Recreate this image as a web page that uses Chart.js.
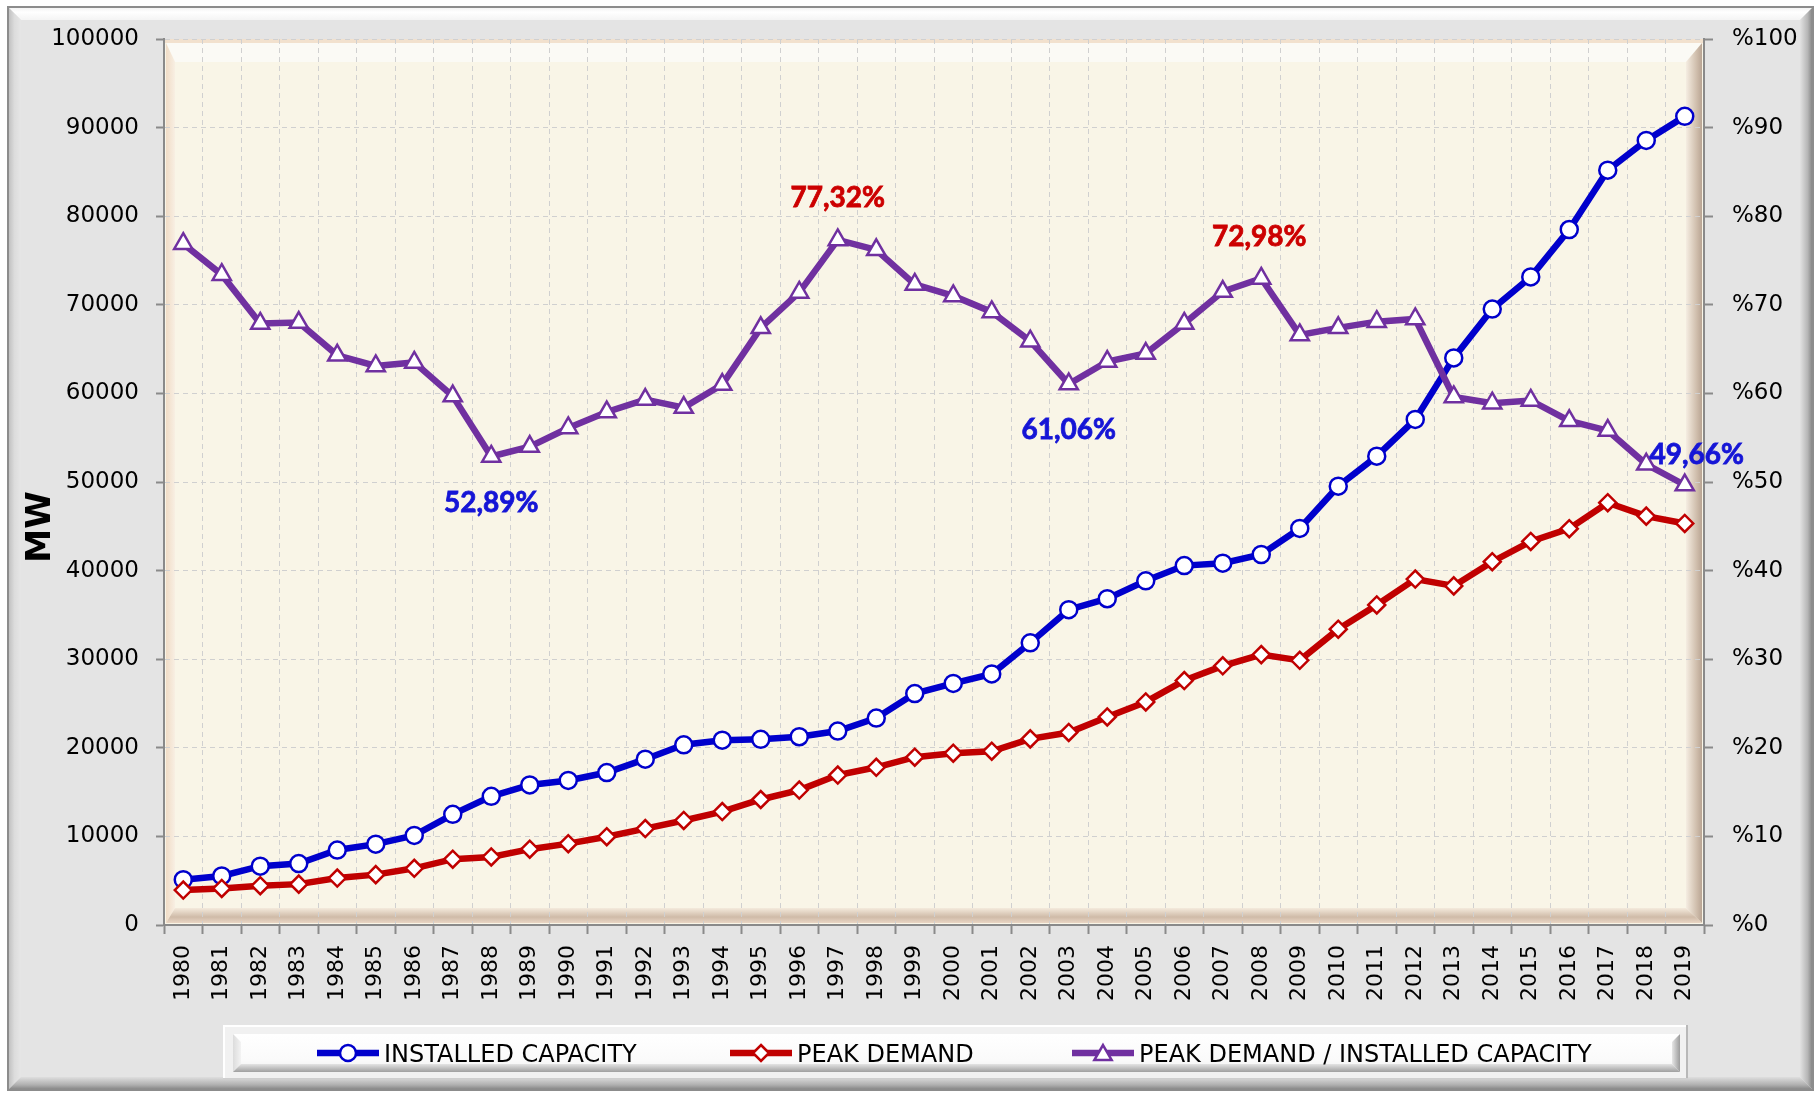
<!DOCTYPE html>
<html>
<head>
<meta charset="utf-8">
<style>
html,body{margin:0;padding:0;background:#ffffff;overflow:hidden}
canvas{display:block}
</style>
<script src="https://cdn.jsdelivr.net/npm/chart.js@4.4.1/dist/chart.umd.min.js"></script>
</head>
<body>
<canvas id="c" width="1819" height="1095"></canvas>
<script>
// ---------------- DATA ----------------
const years = ['1980','1981','1982','1983','1984','1985','1986','1987','1988','1989',
               '1990','1991','1992','1993','1994','1995','1996','1997','1998','1999',
               '2000','2001','2002','2003','2004','2005','2006','2007','2008','2009',
               '2010','2011','2012','2013','2014','2015','2016','2017','2018','2019'];

const installedCapacity = [5119, 5538, 6639, 6935, 8462, 9122, 10115, 12495, 14521, 15808,
                           16318, 17209, 18716, 20338, 20860, 20954, 21249, 21892, 23354, 26119,
                           27264, 28332, 31846, 35587, 36824, 38844, 40565, 40836, 41817, 44761,
                           49524, 52911, 57059, 64008, 69520, 73147, 78497, 85200, 88551, 91267];

const peakDemand = [3946, 4122, 4440, 4613, 5300, 5685, 6400, 7426, 7680, 8557,
                    9180, 9965, 10882, 11799, 12800, 14165, 15231, 16926, 17799, 18938,
                    19390, 19612, 21006, 21729, 23485, 25174, 27594, 29249, 30517, 29870,
                    33392, 36122, 39045, 38274, 41003, 43289, 44734, 47660, 46148, 45323];

const demandRatio = [76.9, 73.4, 67.9, 68.0, 64.3, 63.1, 63.5, 59.7, 52.89, 54.0,
                     56.1, 57.9, 59.3, 58.4, 61.0, 67.4, 71.4, 77.32, 76.2, 72.3,
                     71.0, 69.2, 65.9, 61.06, 63.6, 64.5, 67.9, 71.5, 72.98, 66.6,
                     67.4, 68.1, 68.4, 59.6, 58.9, 59.2, 56.9, 55.8, 52.0, 49.66];

const seriesNames = ['INSTALLED CAPACITY', 'PEAK DEMAND', 'PEAK DEMAND / INSTALLED CAPACITY'];
const leftAxisTitle = 'MW';
const annotatedYears = ['1988', '1997', '2003', '2008', '2019'];

// ---------------- STYLES ----------------
const BLUE = '#0000cc', RED = '#c00000', PURPLE = '#7030a0';
const seriesColors = [BLUE, RED, PURPLE];
const seriesMarkers = ['circle', 'rectRot', 'triangle'];
const annotationColors = ['#1515d6', '#cc0000', '#1515d6', '#cc0000', '#1515d6'];
const annotationOffsets = [[0, 47], [0, -42], [0, 46], [-2, -41], [12, -30]];
const legendItemX = [317, 730, 1072];
const FONT = "'DejaVu Sans', Verdana, sans-serif";

function poly(ctx, pts, fill) {
  ctx.beginPath();
  ctx.moveTo(pts[0][0], pts[0][1]);
  for (let i = 1; i < pts.length; i++) ctx.lineTo(pts[i][0], pts[i][1]);
  ctx.closePath();
  ctx.fillStyle = fill;
  ctx.fill();
}
function lgrad(ctx, x0, y0, x1, y1, stops) {
  const g = ctx.createLinearGradient(x0, y0, x1, y1);
  stops.forEach(s => g.addColorStop(s[0], s[1]));
  return g;
}
function drawMarker(ctx, style, x, y, r, color) {
  ctx.beginPath();
  if (style === 'circle') {
    ctx.arc(x, y, r, 0, Math.PI * 2);
  } else if (style === 'rectRot') {
    ctx.moveTo(x, y - r); ctx.lineTo(x + r, y); ctx.lineTo(x, y + r); ctx.lineTo(x - r, y);
    ctx.closePath();
  } else {
    let a = 0;
    for (let k = 0; k < 3; k++) {
      const px = x + Math.sin(a) * r, py = y - Math.cos(a) * r;
      if (k === 0) ctx.moveTo(px, py); else ctx.lineTo(px, py);
      a += Math.PI * 2 / 3;
    }
    ctx.closePath();
  }
  ctx.fillStyle = '#ffffff';
  ctx.fill();
  ctx.lineWidth = 2.5;
  ctx.strokeStyle = color;
  ctx.stroke();
}

// Background frame + plot-area bevel
const framePlugin = {
  id: 'frame',
  beforeDraw(chart) {
    const ctx = chart.ctx, W = chart.width, H = chart.height;
    ctx.save();
    ctx.fillStyle = '#ffffff';
    ctx.fillRect(0, 0, W, H);
    const L = 8, T = 7, R = W - 6, B = H - 5, bw = 13;
    ctx.fillStyle = '#e4e4e4';
    ctx.fillRect(L, T, R - L, B - T);
    poly(ctx, [[L, T], [R, T], [R - bw, T + bw], [L + bw, T + bw]],
         lgrad(ctx, 0, T, 0, T + bw, [[0, '#f2f2f2'], [0.4, '#ffffff'], [1, '#f4f4f4']]));
    poly(ctx, [[L, T], [L + bw, T + bw], [L + bw, B - bw], [L, B]],
         lgrad(ctx, L, 0, L + bw, 0, [[0, '#bdbdbd'], [0.5, '#dcdcdc'], [1, '#e6e6e6']]));
    poly(ctx, [[R, T], [R, B], [R - bw, B - bw], [R - bw, T + bw]],
         lgrad(ctx, R - bw, 0, R, 0, [[0, '#e2e2e2'], [0.6, '#b5b5b5'], [1, '#7c7c7c']]));
    poly(ctx, [[L, B], [R, B], [R - bw, B - bw], [L + bw, B - bw]],
         lgrad(ctx, 0, B - bw, 0, B, [[0, '#dedede'], [0.6, '#b0b0b0'], [1, '#808080']]));
    ctx.strokeStyle = '#8c8c8c';
    ctx.lineWidth = 2;
    ctx.strokeRect(L, T, R - L, B - T);

    // plot area
    const a = chart.chartArea;
    const l = a.left, t = a.top, r = a.right, b = a.bottom;
    ctx.fillStyle = '#f9f5e7';
    ctx.fillRect(l, t, r - l, b - t);
    ctx.fillStyle = '#f2e1ce';
    ctx.fillRect(l, t, r - l, 4);
    poly(ctx, [[l + 2, t + 4], [r - 2, t + 4], [r - 18, t + 23], [l + 11, t + 23]], '#fbfaf5');
    poly(ctx, [[l + 2, t + 4], [l + 11, t + 23], [l + 11, b - 17], [l + 2, b - 2]],
         lgrad(ctx, l + 2, 0, l + 11, 0, [[0, '#f0dcc6'], [1, '#f8efe3']]));
    poly(ctx, [[r - 2, t + 4], [r - 2, b - 2], [r - 18, b - 17], [r - 18, t + 23]],
         lgrad(ctx, r - 18, 0, r - 2, 0, [[0, '#f5ede2'], [0.7, '#cdbba9'], [1, '#b8a493']]));
    poly(ctx, [[l + 2, b - 2], [r - 2, b - 2], [r - 18, b - 17], [l + 11, b - 17]],
         lgrad(ctx, 0, b - 17, 0, b - 2, [[0, '#f4eadc'], [0.6, '#cfbba8'], [1, '#ead6c4']]));
    ctx.restore();
  }
};

// Annotations, axis title and legend
const overlayPlugin = {
  id: 'overlay',
  afterDatasetsDraw(chart) {
    const ctx = chart.ctx;
    const meta = chart.getDatasetMeta(2);
    ctx.save();
    ctx.font = "bold 28px Lato, 'Liberation Sans', sans-serif";
    ctx.textAlign = 'center';
    ctx.textBaseline = 'middle';
    annotatedYears.forEach((yr, k) => {
      const i = years.indexOf(yr);
      const p = meta.data[i];
      const txt = demandRatio[i].toFixed(2).replace('.', ',') + '%';
      const x = p.x + annotationOffsets[k][0], y = p.y + annotationOffsets[k][1];
      ctx.lineWidth = 0.8;
      ctx.strokeStyle = annotationColors[k];
      ctx.fillStyle = annotationColors[k];
      ctx.fillText(txt, x, y);
      ctx.strokeText(txt, x, y);
    });
    ctx.restore();
  },
  afterDraw(chart) {
    const ctx = chart.ctx;
    ctx.save();
    // axis title
    ctx.translate(40, 527);
    ctx.rotate(-Math.PI / 2);
    ctx.font = "bold 34px " + FONT;
    ctx.fillStyle = '#000000';
    ctx.textAlign = 'center';
    ctx.textBaseline = 'middle';
    ctx.fillText(leftAxisTitle, 0, 1);
    ctx.restore();

    // legend box
    ctx.save();
    const ox = 223, oy = 1025, ox2 = 1688, oy2 = 1080;
    ctx.fillStyle = '#f1f1f1';
    ctx.fillRect(ox, oy, ox2 - ox, oy2 - oy);
    ctx.fillStyle = '#ffffff';
    ctx.fillRect(ox, oy, ox2 - ox, 2);
    ctx.fillRect(ox, oy, 2, oy2 - oy);
    ctx.fillStyle = '#b8b8b8';
    ctx.fillRect(ox2 - 2, oy, 2, oy2 - oy);
    ctx.fillStyle = '#cfcfcf';
    ctx.fillRect(ox, oy2 - 2, ox2 - ox, 2);
    const bx = 233, by = 1034, bx2 = 1680, by2 = 1072, bv = 8;
    ctx.fillStyle = lgrad(ctx, 0, by, 0, by2, [[0, '#ffffff'], [0.7, '#fafafa'], [1, '#eeeeee']]);
    ctx.fillRect(bx, by, bx2 - bx, by2 - by);
    poly(ctx, [[bx, by], [bx + bv, by + bv], [bx + bv, by2 - bv], [bx, by2]],
         lgrad(ctx, bx, 0, bx + bv, 0, [[0, '#dcdcdc'], [1, '#f3f3f3']]));
    poly(ctx, [[bx2, by], [bx2, by2], [bx2 - bv, by2 - bv], [bx2 - bv, by + bv]],
         lgrad(ctx, bx2 - bv, 0, bx2, 0, [[0, '#e6e6e6'], [1, '#9c9c9c']]));
    poly(ctx, [[bx, by2], [bx2, by2], [bx2 - bv, by2 - bv], [bx + bv, by2 - bv]],
         lgrad(ctx, 0, by2 - bv, 0, by2, [[0, '#e4e4e4'], [1, '#a0a0a0']]));

    const ly = 1053;
    ctx.font = "24px " + FONT;
    ctx.textAlign = 'left';
    ctx.textBaseline = 'alphabetic';
    seriesNames.forEach((name, k) => {
      const x0 = legendItemX[k];
      ctx.strokeStyle = seriesColors[k];
      ctx.lineWidth = 6.5;
      ctx.lineCap = 'butt';
      ctx.beginPath();
      ctx.moveTo(x0, ly);
      ctx.lineTo(x0 + 62, ly);
      ctx.stroke();
      drawMarker(ctx, seriesMarkers[k], x0 + 31, ly + (k === 2 ? 2 : 0), k === 2 ? 10 : 8, seriesColors[k]);
      ctx.fillStyle = '#000000';
      ctx.fillText(name, x0 + 67, ly + 9);
    });
    ctx.restore();
  }
};

const gridColor = '#d0d0d0';
const axisColor = '#8a8a8a';

new Chart(document.getElementById('c'), {
  type: 'line',
  data: {
    labels: years,
    datasets: [
      {
        label: seriesNames[0], data: installedCapacity, yAxisID: 'y',
        borderColor: BLUE, backgroundColor: '#ffffff', borderWidth: 6.5,
        pointStyle: 'circle', pointRadius: 8.5, pointBorderWidth: 2.5,
        pointBackgroundColor: '#ffffff', pointBorderColor: BLUE, tension: 0, order: 3
      },
      {
        label: seriesNames[1], data: peakDemand, yAxisID: 'y',
        borderColor: RED, backgroundColor: '#ffffff', borderWidth: 6.5,
        pointStyle: 'rectRot', pointRadius: 8.5, pointBorderWidth: 2.5,
        pointBackgroundColor: '#ffffff', pointBorderColor: RED, tension: 0, order: 2
      },
      {
        label: seriesNames[2], data: demandRatio, yAxisID: 'y1',
        borderColor: PURPLE, backgroundColor: '#ffffff', borderWidth: 6.5,
        pointStyle: 'triangle', pointRadius: 10.5, pointBorderWidth: 2.5,
        pointBackgroundColor: '#ffffff', pointBorderColor: PURPLE, tension: 0, order: 1
      }
    ]
  },
  options: {
    responsive: false,
    animation: false,
    devicePixelRatio: 1,
    events: [],
    font: { family: FONT },
    layout: { padding: { top: 39, left: 0, right: 0, bottom: 0 } },
    plugins: { legend: { display: false }, tooltip: { enabled: false } },
    scales: {
      x: {
        offset: true,
        grid: { offset: true, color: gridColor, lineWidth: 1, tickLength: 9, tickColor: axisColor, tickWidth: 2 },
        border: { color: axisColor, width: 2, dash: [5, 4] },
        ticks: { minRotation: 90, maxRotation: 90, autoSkip: false, padding: 11, color: '#000000',
                 font: { family: FONT, size: 22 } },
        afterFit(s) { s.height = 170; }
      },
      y: {
        position: 'left', min: 0, max: 100000,
        grid: { color: gridColor, lineWidth: 1, tickLength: 8, tickColor: axisColor, tickWidth: 2 },
        border: { color: axisColor, width: 2, dash: [5, 4] },
        ticks: { stepSize: 10000, padding: 17, color: '#000000', font: { family: FONT, size: 23 },
                 callback: v => String(v) },
        afterFit(s) { s.width = 164; }
      },
      y1: {
        position: 'right', min: 0, max: 100,
        grid: { drawOnChartArea: false, tickLength: 9, tickColor: axisColor, tickWidth: 2 },
        border: { color: axisColor, width: 2 },
        ticks: { stepSize: 10, padding: 19, color: '#000000', font: { family: FONT, size: 23 },
                 callback: v => '%' + v },
        afterFit(s) { s.width = 115; }
      }
    }
  },
  plugins: [framePlugin, overlayPlugin]
});
</script>
</body>
</html>
